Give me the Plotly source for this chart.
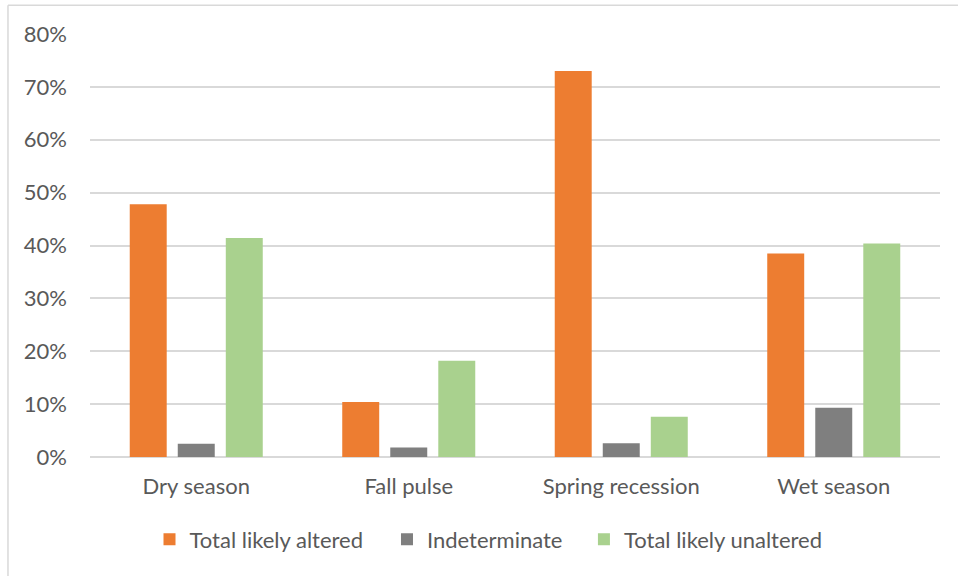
import plotly.graph_objects as go

categories = ["Dry season", "Fall pulse", "Spring recession", "Wet season"]
altered = [0.478, 0.104, 0.730, 0.385]
indeterminate = [0.025, 0.018, 0.026, 0.093]
unaltered = [0.414, 0.182, 0.076, 0.404]

series = [
    ("Total likely altered", altered, "#ED7D31", "legend"),
    ("Indeterminate", indeterminate, "#7F7F7F", "legend2"),
    ("Total likely unaltered", unaltered, "#A9D18E", "legend3"),
]

text_color = "#595959"
font_family = "Lato, 'Open Sans', sans-serif"
frame_color = "#D9D9D9"

fig = go.Figure()
for name, vals, color, leg in series:
    fig.add_trace(go.Bar(
        x=categories, y=vals, name=name, legend=leg, showlegend=True,
        marker=dict(color=color, line=dict(width=0)),
    ))

def legend_at(x):
    return dict(orientation="h", x=x, xanchor="left", y=-0.145,
                yanchor="top", font=dict(size=22, color=text_color),
                itemwidth=30, bgcolor="rgba(0,0,0,0)")

fig.update_layout(
    width=958, height=576,
    margin=dict(l=90, r=18, t=34, b=119),
    paper_bgcolor="white", plot_bgcolor="white",
    showlegend=True,
    barmode="group", bargap=0.322, bargroupgap=0.23,
    font=dict(family=font_family, size=22, color=text_color),
    xaxis=dict(showgrid=False, showline=False, ticks="",
               ticklabelstandoff=14,
               tickfont=dict(size=22, color=text_color)),
    yaxis=dict(range=[0, 0.8], dtick=0.1, tickformat=".0%",
               showgrid=True, gridcolor=frame_color, gridwidth=2,
               zeroline=True, zerolinecolor=frame_color, zerolinewidth=2,
               showline=False, ticks="", ticklabelstandoff=22,
               tickfont=dict(size=22, color=text_color)),
    legend=legend_at(0.070),
    legend2=legend_at(0.3494),
    legend3=legend_at(0.5811),
    shapes=[
        # chart frame: top and left edges only
        dict(type="line", xref="paper", yref="paper",
             x0=-0.0965, x1=1.03, y0=1.068, y1=1.068,
             line=dict(color=frame_color, width=1.5)),
        dict(type="line", xref="paper", yref="paper",
             x0=-0.0965, x1=-0.0965, y0=1.068, y1=-0.3,
             line=dict(color=frame_color, width=1.5)),
    ],
)

fig.write_html("out.html")
